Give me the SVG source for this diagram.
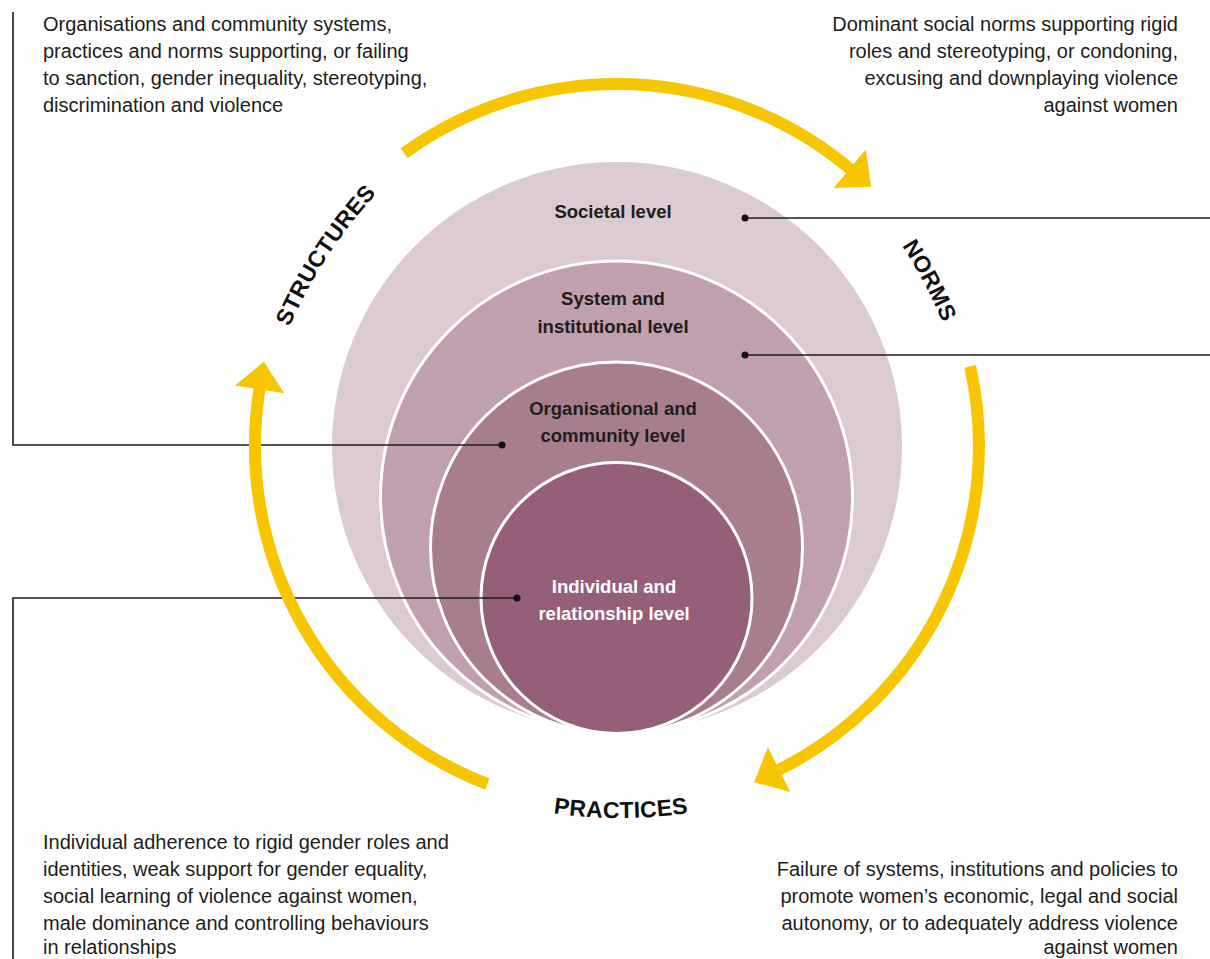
<svg xmlns="http://www.w3.org/2000/svg" width="1210" height="959" viewBox="0 0 1210 959">
<style>
.body{font-family:"Liberation Sans",Arial,sans-serif;font-size:20px;fill:#1d1d1b}
.r{text-anchor:end}
.lvl{font-family:"Liberation Sans",Arial,sans-serif;font-size:18.5px;font-weight:bold;fill:#1d1d1b;text-anchor:middle}
.lvlw{fill:#ffffff}
.big{font-family:"Liberation Sans",Arial,sans-serif;font-size:23px;font-weight:bold;fill:#111;letter-spacing:0.3px}
.arc{fill:none;stroke:#f7c600;stroke-width:12}
.head{fill:#f7c600}
.lead{fill:none;stroke:#1d1d1b;stroke-width:1.6}
.dot{fill:#111}
.ring{stroke:#ffffff;stroke-width:3}
</style>
<defs>
<path id="pStruct" d="M 249.9 492.5 A 480 480 0 0 1 512.8 90.9"/>
<path id="pNorms" d="M 755 101.4 A 480 480 0 0 1 979.6 525.6"/>
<path id="pPract" d="M 386 755 A 470 470 0 0 0 856 755"/>
</defs>

<g id="level-societal">
<circle cx="617" cy="447" r="285" fill="#dbcad2"/>
</g>
<g id="level-system">
<circle class="ring" cx="616.5" cy="497" r="236" fill="#c0a0ae"/>
</g>
<g id="level-organisational">
<circle class="ring" cx="616.5" cy="548" r="186" fill="#a87e8f"/>
</g>
<g id="level-individual">
<circle class="ring" cx="616.5" cy="598" r="135.5" fill="#955e79"/>
</g>

<g id="level-labels">
<text class="lvl" x="613" y="218">Societal level</text>
<text class="lvl" x="613" y="305">System and</text>
<text class="lvl" x="613" y="333">institutional level</text>
<text class="lvl" x="613" y="415">Organisational and</text>
<text class="lvl" x="613" y="442">community level</text>
<text class="lvl lvlw" x="614" y="593">Individual and</text>
<text class="lvl lvlw" x="614" y="620">relationship level</text>
</g>

<g id="connectors">
<path class="lead" d="M 745 218 H 1210"/>
<circle class="dot" cx="745" cy="218" r="3.5"/>
<path class="lead" d="M 745 355 H 1210"/>
<circle class="dot" cx="745" cy="355" r="3.5"/>
<path class="lead" d="M 502 445 H 13 V 12"/>
<circle class="dot" cx="502" cy="445" r="3.5"/>
<path class="lead" d="M 517 598 H 13 V 959"/>
<circle class="dot" cx="517" cy="598" r="3.5"/>
</g>

<g id="cycle-arrows">
<path class="arc" d="M 404.2 153.1 A 362 362 0 0 1 854.5 172.8"/>
<polygon class="head" points="871.1,186.7 865.8,149.5 833.6,187.9"/>
<path class="arc" d="M 970.1 366.4 A 362 362 0 0 1 773.4 772.5"/>
<polygon class="head" points="754.1,782.2 790.3,792.1 767.9,747.3"/>
<path class="arc" d="M 487.3 784 A 362 362 0 0 1 260.5 383.1"/>
<polygon class="head" points="263.9,361.7 234.8,385.5 284.2,393.3"/>
</g>

<g id="cycle-labels">
<text class="big"><textPath href="#pStruct" startOffset="50%" text-anchor="middle">STRUCTURES</textPath></text>
<text class="big"><textPath href="#pNorms" startOffset="50%" text-anchor="middle">NORMS</textPath></text>
<text class="big"><textPath href="#pPract" startOffset="50%" text-anchor="middle">PRACTICES</textPath></text>
</g>

<g id="desc-structures">
<text class="body" x="43" y="31">Organisations and community systems,</text>
<text class="body" x="43" y="58">practices and norms supporting, or failing</text>
<text class="body" x="43" y="85">to sanction, gender inequality, stereotyping,</text>
<text class="body" x="43" y="112">discrimination and violence</text>
</g>
<g id="desc-norms">
<text class="body r" x="1178" y="31">Dominant social norms supporting rigid</text>
<text class="body r" x="1178" y="58">roles and stereotyping, or condoning,</text>
<text class="body r" x="1178" y="85">excusing and downplaying violence</text>
<text class="body r" x="1178" y="112">against women</text>
</g>
<g id="desc-practices">
<text class="body" x="43" y="849">Individual adherence to rigid gender roles and</text>
<text class="body" x="43" y="876">identities, weak support for gender equality,</text>
<text class="body" x="43" y="903">social learning of violence against women,</text>
<text class="body" x="43" y="930">male dominance and controlling behaviours</text>
<text class="body" x="43" y="954">in relationships</text>
</g>
<g id="desc-systems">
<text class="body r" x="1178" y="876">Failure of systems, institutions and policies to</text>
<text class="body r" x="1178" y="903">promote women’s economic, legal and social</text>
<text class="body r" x="1178" y="930">autonomy, or to adequately address violence</text>
<text class="body r" x="1178" y="954">against women</text>
</g>
</svg>
